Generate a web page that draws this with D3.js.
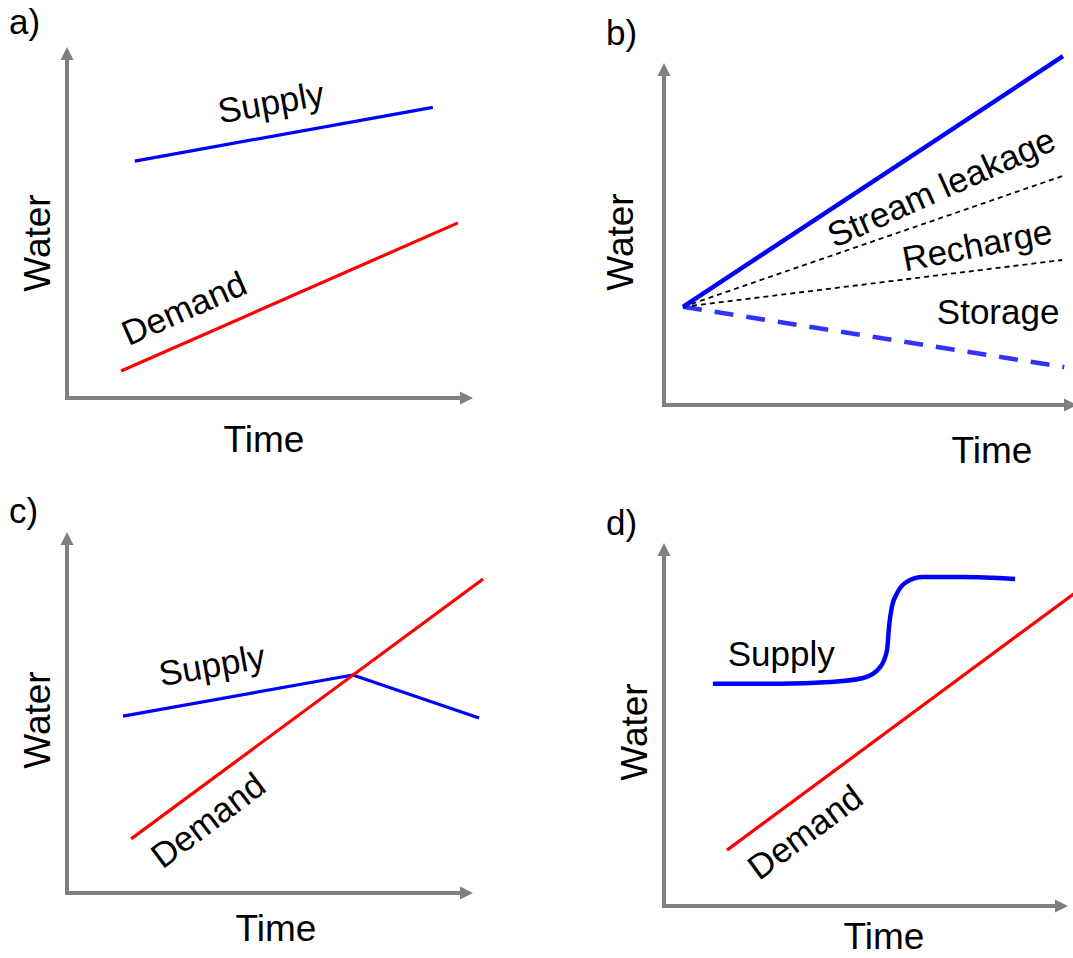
<!DOCTYPE html>
<html><head><meta charset="utf-8">
<script src="https://cdn.jsdelivr.net/npm/d3@7"></script>
<style>
html,body{margin:0;padding:0;background:#fff;}
text{font-family:"Liberation Sans",Arial,sans-serif;fill:#000;}
</style></head>
<body>
<svg id="chart" width="1073" height="958"></svg>
<script>
// ---- data (time / water in relative units 0-100 of each axis) ----
const panelLetters = ["a)", "b)", "c)", "d)"];
const axisTitleX = "Time";
const axisTitleY = "Water";

// a)
const aSupplyT = [16.7, 90.1];
const aSupplyW = [67.5, 82.8];
const aDemandT = [13.3, 96.3];
const aDemandW = [7.7, 49.9];

// b)
const bOrigin = [4.6, 28.7];
const bTotalEnd = [96.6, 102.0];
const bLeakEnd = [96.6, 67.0];
const bRechargeEnd = [96.4, 42.4];
const bStorageEnd = [96.9, 11.1];

// c)
const cSupplyT = [13.8, 70.4, 101.5];
const cSupplyW = [49.0, 60.4, 48.5];
const cDemandT = [15.8, 102.5];
const cDemandW = [15.0, 87.0];

// d)
const dSupplyT = [12.1, 28.7, 41.1, 49.3, 53.5, 55.2, 55.7, 56.4, 57.7, 60.1, 64.1, 74.0, 86.9];
const dSupplyW = [61.2, 61.2, 61.7, 62.8, 65.8, 70.5, 76.9, 82.4, 86.2, 89.3, 90.6, 90.6, 90.1];
const dDemandT = [15.6, 101.7];
const dDemandW = [15.4, 86.2];

// curve labels: [text, t, w, angle]
const aLabels = [["Supply", 50.2, 84.3, -10], ["Demand", 28.8, 25.6, -24]];
const bLabels = [["Stream leakage", 67.1, 63.7, -24], ["Recharge", 75.8, 46.8, -11], ["Storage", 80.9, 27.2, 0]];
const cLabels = [["Supply", 35.7, 63.2, -10], ["Demand", 34.7, 20.2, -37]];
const dLabels = [["Supply", 29.0, 69.4, 0], ["Demand", 34.9, 20.4, -36.5]];

// ---- layout ----
const panels = [
  {x0: 67, y0: 398, xTip: 473, yTip: 47, letter: [9, 34], timeLab: [264, 452], waterLab: [50, 243]},
  {x0: 664, y0: 405, xTip: 1077, yTip: 63, letter: [606, 45], timeLab: [992, 463], waterLab: [633, 242]},
  {x0: 67, y0: 893, xTip: 473, yTip: 532, letter: [9, 523], timeLab: [276, 941], waterLab: [50, 720]},
  {x0: 664, y0: 906, xTip: 1068, yTip: 543, letter: [606, 535], timeLab: [884, 949], waterLab: [647, 732]}
];

const svg = d3.select("#chart");
const BLUE = "#0000ff", RED = "#ff0000", GREY = "#808080";
const zip = (a, b) => a.map((v, i) => [v, b[i]]);

function setup(i) {
  const p = panels[i];
  const g = svg.append("g");
  const x = d3.scaleLinear().domain([0, 100]).range([p.x0, p.xTip]);
  const y = d3.scaleLinear().domain([0, 100]).range([p.y0, p.yTip]);
  // axes (no ticks) via d3 axis
  const ax = g.append("g").attr("transform", `translate(0,${p.y0})`)
    .call(d3.axisBottom(x).tickValues([]).tickSizeOuter(0));
  const ay = g.append("g").attr("transform", `translate(${p.x0},0)`)
    .call(d3.axisLeft(y).tickValues([]).tickSizeOuter(0));
  [ax, ay].forEach(a => a.select(".domain").attr("stroke", GREY).attr("stroke-width", 4).attr("stroke-linecap", "square"));
  ax.select(".domain").attr("d", `M${p.x0},0H${p.xTip - 10}`);
  ay.select(".domain").attr("d", `M0,${p.y0}V${p.yTip + 10}`);
  const L = 13, H = 6.5;
  g.append("path").attr("fill", GREY)
    .attr("d", `M${p.xTip},${p.y0}L${p.xTip - L},${p.y0 - H}L${p.xTip - L},${p.y0 + H}Z`);
  g.append("path").attr("fill", GREY)
    .attr("d", `M${p.x0},${p.yTip}L${p.x0 - H},${p.yTip + L}L${p.x0 + H},${p.yTip + L}Z`);
  // titles
  g.append("text").attr("x", p.letter[0]).attr("y", p.letter[1]).attr("font-size", 35).text(panelLetters[i]);
  g.append("text").attr("x", p.timeLab[0]).attr("y", p.timeLab[1]).attr("text-anchor", "middle")
    .attr("font-size", 37).text(axisTitleX);
  g.append("text").attr("transform", `translate(${p.waterLab[0]},${p.waterLab[1]}) rotate(-90)`)
    .attr("text-anchor", "middle").attr("font-size", 37).text(axisTitleY);
  return {g, x, y};
}

function line(ctx, pts, color, width, dash, curve) {
  const gen = d3.line().x(d => ctx.x(d[0])).y(d => ctx.y(d[1])).curve(curve || d3.curveLinear);
  const path = ctx.g.append("path").datum(pts).attr("fill", "none").attr("stroke", color)
    .attr("stroke-width", width).attr("stroke-linejoin", "round").attr("d", gen);
  if (dash) path.attr("stroke-dasharray", dash);
  return path;
}

function labels(ctx, arr, size) {
  arr.forEach(([t, tx, wy, ang]) => {
    ctx.g.append("text")
      .attr("transform", `translate(${ctx.x(tx)},${ctx.y(wy)}) rotate(${ang})`)
      .attr("text-anchor", "middle").attr("dy", "0.35em").attr("font-size", size).text(t);
  });
}

// a)
const A = setup(0);
line(A, zip(aSupplyT, aSupplyW), BLUE, 3.2);
line(A, zip(aDemandT, aDemandW), RED, 3.2);
labels(A, aLabels, 35);

// b)
const B = setup(1);
line(B, [bOrigin, bStorageEnd], "#3333ff", 4.5, "19,13");
line(B, [bOrigin, bLeakEnd], "#000", 1.8, "5,4");
line(B, [bOrigin, bRechargeEnd], "#000", 1.8, "5,4");
line(B, [bOrigin, bTotalEnd], BLUE, 4.5);
labels(B, bLabels, 35);

// c)
const C = setup(2);
line(C, zip(cSupplyT, cSupplyW), BLUE, 3.2);
line(C, zip(cDemandT, cDemandW), RED, 3.2);
labels(C, cLabels, 35);

// d)
const D = setup(3);
line(D, zip(dSupplyT, dSupplyW), BLUE, 4.5, null, d3.curveMonotoneX);
line(D, zip(dDemandT, dDemandW), RED, 3.2);
labels(D, dLabels, 35);
</script>
</body></html>
